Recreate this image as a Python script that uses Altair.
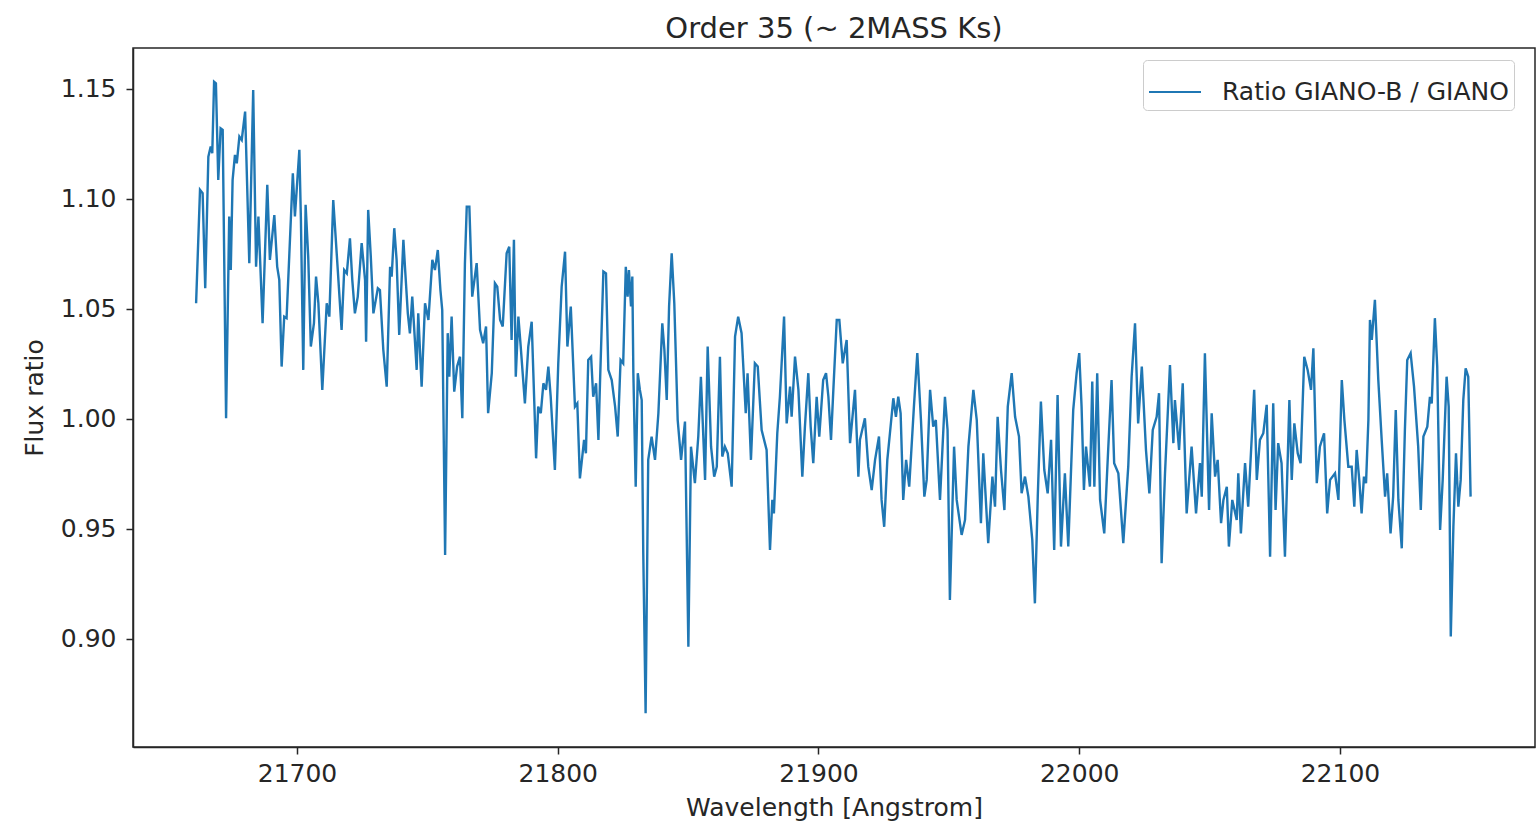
import altair as alt
import pandas as pd

# Wavelength [Angstrom] of the traced points
wavelength = [
    21661.3, 21662.8, 21663.8, 21664.8, 21666.0, 21666.9, 21667.5, 21668.2, 21668.9, 21669.8,
    21670.7, 21671.5, 21672.8, 21674.0, 21674.6, 21675.3, 21676.2, 21676.9, 21677.9, 21678.8,
    21680.1, 21681.7, 21683.2, 21684.3, 21685.2, 21686.8, 21688.6, 21689.6, 21691.3, 21692.4,
    21693.2, 21694.1, 21695.1, 21696.0, 21698.4, 21699.2, 21700.9, 21701.5, 21702.4, 21703.3,
    21704.3, 21705.3, 21706.5, 21707.3, 21708.2, 21709.7, 21711.4, 21712.4, 21713.9,
    21715.8, 21717.1, 21718.1, 21719.1, 21720.3, 21721.2, 21722.2, 21723.3, 21724.8, 21726.1,
    21726.5, 21727.3, 21728.3, 21729.3, 21731.0, 21731.8, 21733.1, 21734.4, 21735.7, 21736.3,
    21737.3, 21738.2, 21739.2, 21740.8, 21741.4, 21742.5, 21743.3, 21744.2, 21745.9, 21746.5,
    21747.8, 21749.1, 21750.4, 21751.9, 21752.9, 21754.0, 21755.0, 21755.7, 21756.8, 21757.8,
    21758.4, 21759.3, 21760.3, 21761.4, 21762.5, 21763.4, 21764.4, 21765.1, 21766.1, 21767.2,
    21768.9, 21770.2, 21771.4,
    21772.5, 21773.3, 21774.7, 21775.9, 21776.8, 21777.9, 21778.9, 21780.4, 21781.4, 21782.3,
    21783.2, 21783.9, 21784.9, 21785.8, 21787.4, 21788.7, 21790.0, 21791.7, 21792.5, 21793.5,
    21794.5, 21795.5, 21796.4, 21797.3, 21798.9, 21800.2, 21801.5, 21802.8, 21803.7, 21805.0,
    21806.6, 21807.5, 21808.5, 21810.1, 21810.8, 21811.7, 21812.8, 21813.6, 21814.7, 21815.6,
    21816.2, 21817.5, 21818.5, 21819.4, 21820.7, 21822.0, 21823.0, 21824.1, 21825.1, 21826.1,
    21826.8, 21827.3, 21828.1, 21828.6, 21829.0, 21829.9, 21830.7, 21831.5, 21832.2, 21832.8,
    21833.7, 21834.7, 21836.0, 21837.3, 21838.6, 21840.1, 21840.9, 21841.8, 21842.7, 21843.7,
    21844.7, 21846.0, 21847.3, 21848.8, 21850.1, 21851.1, 21852.6, 21853.9, 21854.9, 21856.5,
    21857.5, 21858.8, 21860.0, 21861.0, 21862.2, 21863.1, 21864.1, 21865.2, 21866.7, 21868.0,
    21869.2, 21870.5, 21872.1, 21872.8, 21874.1, 21875.6, 21876.7, 21878.2, 21880.1, 21881.4,
    21882.3,
    21882.9, 21884.2, 21885.2, 21886.8, 21887.8, 21889.1, 21889.7, 21891.0, 21892.3, 21893.8,
    21894.8, 21896.1, 21897.0, 21898.0, 21899.3, 21900.3, 21901.8, 21902.9, 21903.8, 21904.8,
    21905.7, 21907.0, 21908.0, 21909.3, 21910.8, 21912.1, 21914.0, 21915.3, 21915.9, 21917.8,
    21919.1, 21920.4, 21921.7, 21923.2, 21924.2, 21925.2, 21926.4, 21927.4, 21928.7, 21929.7,
    21930.6, 21931.5, 21932.5, 21933.6, 21934.8, 21936.6, 21937.9,
    21939.3, 21940.6, 21941.5, 21942.8, 21944.0, 21945.0, 21946.6, 21948.5, 21949.5, 21950.4,
    21952.0, 21953.0, 21954.9, 21956.2, 21957.5, 21959.4, 21960.7, 21962.3, 21963.2, 21965.1,
    21966.7, 21967.7, 21968.7, 21970.0, 21971.3, 21972.6, 21974.1, 21975.4, 21976.9, 21977.9,
    21979.2, 21980.5, 21982.0, 21983.0, 21984.1, 21985.3, 21986.6, 21987.9, 21989.2, 21990.4,
    21991.7, 21993.0,
    21994.5, 21995.8, 21997.7, 21999.0, 22000.0, 22000.9, 22001.8, 22002.6, 22004.1, 22005.0,
    22005.8, 22006.9, 22008.0, 22009.6, 22011.1, 22012.4, 22013.4, 22015.0, 22016.9, 22018.8,
    22020.1, 22021.4, 22022.6, 22024.0, 22025.6, 22026.9, 22028.2, 22029.7, 22030.6, 22031.6,
    22032.9, 22034.8, 22036.1, 22036.7, 22038.3, 22039.7, 22041.2, 22043.1, 22044.8, 22046.3,
    22047.0, 22048.2,
    22049.8, 22050.8, 22052.1, 22053.1, 22054.4, 22055.3, 22056.6, 22057.4, 22058.7, 22060.4,
    22061.0, 22062.0, 22063.6, 22064.8, 22067.1, 22068.1, 22069.3, 22070.6, 22071.9, 22073.2,
    22074.4, 22075.3, 22076.3, 22077.6, 22078.9, 22080.6, 22081.5, 22082.5, 22083.8, 22084.9,
    22086.3, 22087.6, 22088.9, 22089.8, 22091.1, 22092.3, 22093.9, 22095.1, 22096.2, 22098.1,
    22099.4, 22100.7, 22101.7, 22103.2, 22104.5, 22105.5,
    22106.4, 22107.4, 22108.3, 22109.2, 22110.0, 22110.9, 22111.5, 22112.2, 22113.4, 22114.7,
    22116.0, 22117.3, 22118.1, 22119.4, 22120.4, 22121.4, 22122.4, 22123.7, 22124.9, 22125.8,
    22127.1, 22128.4, 22130.0, 22131.0, 22132.0, 22133.5, 22134.5, 22135.2, 22136.4, 22137.3,
    22138.4, 22139.4, 22140.9, 22141.7, 22142.5, 22143.5, 22144.5, 22145.4, 22146.3, 22147.3,
    22148.2, 22149.2, 22150.1,
]

# Flux ratio GIANO-B / GIANO at those wavelengths
flux = [
    1.0526, 1.1041, 1.1026, 1.0594, 1.1192, 1.1238, 1.1208, 1.1533, 1.1526, 1.1086,
    1.1321, 1.1314, 1.0003, 1.0920, 1.0677, 1.1086, 1.1200, 1.1162, 1.1283, 1.1268,
    1.1397, 1.0708, 1.1495, 1.0692, 1.0920, 1.0435, 1.1064, 1.0723, 1.0927, 1.0692,
    1.0632, 1.0238, 1.0465, 1.0458, 1.1117, 1.0920, 1.1223, 1.0905, 1.0223, 1.0973,
    1.0738, 1.0329, 1.0435, 1.0647, 1.0526, 1.0132, 1.0526, 1.0465, 1.0995,
    1.0647, 1.0405, 1.0677, 1.0662, 1.0821, 1.0632, 1.0480, 1.0556, 1.0799, 1.0632,
    1.0351, 1.0950, 1.0738, 1.0480, 1.0594, 1.0586, 1.0314, 1.0147, 1.0692, 1.0647,
    1.0867, 1.0723, 1.0382, 1.0814, 1.0692, 1.0480, 1.0389, 1.0556, 1.0223, 1.0480,
    1.0147, 1.0526, 1.0450, 1.0723, 1.0677, 1.0768, 1.0586, 1.0495, 0.9382, 1.0390,
    1.0192, 1.0465, 1.0124, 1.0238, 1.0283, 1.0003, 1.0708, 1.0965, 1.0965, 1.0556,
    1.0708, 1.0405, 1.0344,
    1.0420, 1.0026, 1.0208, 1.0617, 1.0601, 1.0450, 1.0420, 1.0753, 1.0783, 1.0359,
    1.0814, 1.0192, 1.0465, 1.0329, 1.0071, 1.0329, 1.0442, 0.9821, 1.0056, 1.0026,
    1.0162, 1.0132, 1.0238, 1.0101, 0.9768, 1.0253, 1.0601, 1.0760, 1.0329, 1.0511,
    1.0056, 1.0071, 0.9730, 0.9905, 0.9844, 1.0268, 1.0283, 1.0101, 1.0162, 0.9905,
    1.0162, 1.0670, 1.0662, 1.0223, 1.0177, 1.0056, 0.9920, 1.0268, 1.0253, 1.0692,
    1.0556, 1.0677, 1.0511, 1.0647, 1.0208, 0.9692, 1.0208, 1.0132, 1.0086, 0.9389,
    0.8662, 0.9814, 0.9920, 0.9814, 1.0026, 1.0435, 1.0314, 1.0086, 1.0511, 1.0753,
    1.0526, 0.9995, 0.9814, 0.9988, 0.8965, 0.9874, 0.9708, 0.9920, 1.0192, 0.9723,
    1.0329, 0.9874, 0.9738, 0.9783, 1.0283, 0.9829, 0.9874, 0.9844, 0.9692, 1.0374,
    1.0465, 1.0390, 1.0026, 1.0208, 0.9814, 1.0253, 1.0238, 0.9950, 0.9859, 0.9405,
    0.9632,
    0.9571, 0.9935, 1.0101, 1.0465, 0.9980, 1.0147, 1.0010, 1.0283, 1.0132, 0.9738,
    0.9965, 1.0208, 0.9965, 0.9799, 1.0101, 0.9920, 1.0177, 1.0208, 1.0101, 0.9905,
    1.0132, 1.0450, 1.0450, 1.0253, 1.0359, 0.9890, 1.0132, 0.9738, 0.9905, 1.0003,
    0.9783, 0.9677, 0.9814, 0.9920, 0.9632, 0.9510, 0.9814, 0.9935, 1.0094, 1.0010,
    1.0101, 1.0026, 0.9632, 0.9814, 0.9692, 1.0056, 1.0299,
    0.9995, 0.9647, 0.9723, 1.0132, 0.9965, 0.9995, 0.9632, 1.0101, 0.9950, 0.9177,
    0.9874, 0.9632, 0.9473, 0.9541, 0.9874, 1.0132, 0.9995, 0.9526, 0.9844, 0.9435,
    0.9738, 0.9601, 1.0010, 0.9768, 0.9586, 1.0056, 1.0208, 1.0010, 0.9920, 0.9662,
    0.9738, 0.9647, 0.9450, 0.9162, 0.9647, 1.0079, 0.9768, 0.9662, 0.9905, 0.9405,
    1.0109, 0.9420,
    0.9753, 0.9420, 1.0041, 1.0208, 1.0299, 1.0056, 0.9677, 0.9874, 0.9692, 1.0170,
    0.9692, 1.0208, 0.9632, 0.9480, 0.9859, 1.0177, 0.9799, 0.9753, 0.9435, 0.9783,
    1.0192, 1.0435, 0.9980, 1.0238, 0.9859, 0.9662, 0.9950, 1.0010, 1.0117, 0.9344,
    0.9753, 1.0245, 0.9890, 1.0086, 0.9859, 1.0162, 0.9571, 0.9874, 0.9571, 0.9799,
    0.9647, 1.0299,
    0.9586, 1.0026, 0.9738, 0.9814, 0.9526, 0.9632, 0.9692, 0.9420, 0.9632, 0.9541,
    0.9753, 0.9480, 0.9799, 0.9601, 1.0132, 0.9723, 0.9905, 0.9935, 1.0064, 0.9374,
    1.0071, 0.9586, 0.9890, 0.9799, 0.9374, 1.0086, 0.9723, 0.9980, 0.9844, 0.9799,
    1.0283, 1.0223, 1.0132, 1.0321, 0.9708, 0.9874, 0.9935, 0.9571, 0.9723, 0.9753,
    0.9632, 1.0177, 0.9995, 0.9783, 0.9783, 0.9601,
    0.9859, 0.9723, 0.9571, 0.9738, 0.9708, 0.9995, 1.0450, 1.0359, 1.0541, 1.0177,
    0.9905, 0.9647, 0.9753, 0.9480, 0.9647, 1.0041, 0.9632, 0.9412, 0.9950, 1.0268,
    1.0299, 1.0147, 0.9874, 0.9586, 0.9920, 0.9965, 1.0101, 1.0071, 1.0458, 1.0238,
    0.9495, 0.9723, 1.0192, 1.0056, 0.9011, 0.9510, 0.9844, 0.9601, 0.9723, 1.0086,
    1.0230, 1.0192, 0.9647,
]

x_ticks = [21700, 21800, 21900, 22000, 22100]
y_ticks = [0.90, 0.95, 1.00, 1.05, 1.10, 1.15]
series_name = "Ratio GIANO-B / GIANO"

n = min(len(wavelength), len(flux))
df = pd.DataFrame({
    "wavelength": wavelength[:n],
    "flux": flux[:n],
    "series": [series_name] * n,
})

FONT = "DejaVu Sans"
INK = "#262626"

chart = (
    alt.Chart(df)
    .mark_line(strokeWidth=2.4, clip=True)
    .encode(
        x=alt.X(
            "wavelength:Q",
            scale=alt.Scale(domain=[21637.1, 22174.8], nice=False, zero=False),
            axis=alt.Axis(values=x_ticks, format="d", title="Wavelength [Angstrom]",
                          labelPadding=7, titlePadding=9),
        ),
        y=alt.Y(
            "flux:Q",
            scale=alt.Scale(domain=[0.8509, 1.1686], nice=False, zero=False),
            axis=alt.Axis(values=y_ticks, format=".2f", title="Flux ratio",
                          labelPadding=10, titlePadding=13),
        ),
        color=alt.Color(
            "series:N",
            scale=alt.Scale(range=["#1f77b4"]),
            legend=alt.Legend(
                title=None,
                orient="none",
                legendX=1010,
                legendY=12,
                symbolType="stroke",
                symbolSize=2704,
                symbolStrokeWidth=2,
                labelFontSize=25,
                labelFont=FONT,
                labelColor=INK,
                labelOffset=20,
                labelLimit=0,
                padding=5,
                strokeColor="#cccccc",
                fillColor="white",
                cornerRadius=4,
            ),
        ),
    )
    .properties(
        width=1402,
        height=699,
        title=alt.Title("Order 35 (~ 2MASS Ks)", fontSize=29, font=FONT,
                        fontWeight="normal", color=INK, offset=4),
        padding={"left": 133, "top": 48, "right": 1, "bottom": 81},
        autosize=alt.AutoSizeParams(type="none"),
    )
    .configure_view(stroke=INK, strokeWidth=1.5)
    .configure_axis(
        grid=False,
        domainColor=INK,
        domainWidth=1.5,
        tickColor=INK,
        tickSize=7,
        tickWidth=1.5,
        labelFont=FONT,
        labelFontSize=25,
        labelColor=INK,
        titleFont=FONT,
        titleFontSize=25,
        titleFontWeight="normal",
        titleColor=INK,
    )
)

chart.save("out.html", embed_options={"renderer": "svg", "actions": False})
